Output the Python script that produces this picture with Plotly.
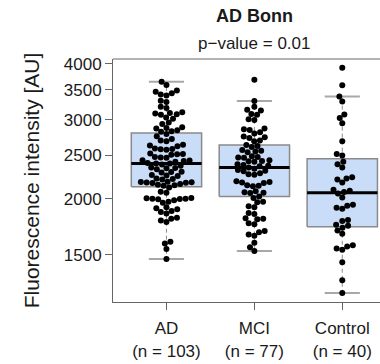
import numpy as np
import plotly.graph_objects as go

# ---- data ----
groups = ["AD", "MCI", "Control"]

ad_values = [
    1468, 1545, 1590, 1605, 1775, 1790, 1805, 1815, 1855, 1870, 1880, 1895, 1905,
    1915, 1960, 1970, 1985, 1995, 1998, 2000, 2002, 2005, 2010, 2065, 2075, 2120,
    2138, 2145, 2150, 2160, 2170, 2172, 2175, 2178, 2180, 2185, 2210, 2215, 2220,
    2250, 2255, 2260, 2290, 2295, 2300, 2330, 2340, 2345, 2350, 2370, 2385,
    2397,
    2400, 2405, 2420, 2430, 2435, 2440, 2470, 2475, 2480, 2510, 2515, 2520, 2525,
    2575, 2580, 2585, 2590, 2620, 2630, 2640, 2690, 2700, 2720, 2760, 2790,
    2822, 2830, 2845, 2870, 2880, 2890, 2940, 2960, 3020, 3040, 3080, 3090, 3100,
    3110, 3120, 3190, 3210, 3290, 3310, 3400, 3420, 3440, 3470, 3490, 3590, 3650,
]

mci_values = [
    1530, 1560, 1595, 1655, 1665, 1685, 1695, 1755, 1765, 1800, 1805, 1810, 1850,
    1860, 1915, 1925, 1965, 1970, 2010,
    2025,
    2060, 2065, 2070, 2080, 2135, 2140, 2145, 2170, 2175, 2180, 2190, 2265, 2270,
    2280, 2305, 2310, 2320, 2335,
    2351,
    2365, 2370, 2380, 2390, 2420, 2425, 2430, 2440, 2470, 2475, 2480, 2490, 2540,
    2550, 2560, 2570, 2610, 2625,
    2638,
    2690, 2700, 2735, 2745, 2755, 2800, 2815, 2850, 2860, 2870, 3000, 3010, 3080,
    3095, 3150, 3160, 3210, 3308, 3690,
]

control_values = [
    1233, 1317, 1444, 1540, 1550, 1565, 1575, 1672, 1700, 1725,
    1741, 1750, 1785, 1795, 1900, 1910, 1930, 1940, 2015, 2055,
    2073, 2085, 2095, 2175, 2210, 2220, 2235, 2350, 2390, 2420,
    2498, 2520, 2690, 2950, 3030, 3085, 3300, 3386, 3585, 3925,
]

series = [ad_values, mci_values, control_values]

y_tick_vals = [1500, 2000, 2500, 3000, 3500, 4000]
title_text = "AD Bonn"
subtitle_text = "p\u2212value = 0.01"
y_title = "Fluorescence intensity [AU]"

# ---- layout constants ----
W, H = 380, 364
M_L, M_R, M_T, M_B = 113, 0, 59, 62
Y_RANGE = [np.log10(1177), np.log10(4104)]
X_RANGE = [0.392, 3.429]
plot_w = W - M_L - M_R
plot_h = H - M_T - M_B
px_per_x = plot_w / (X_RANGE[1] - X_RANGE[0])
px_per_dec = plot_h / (Y_RANGE[1] - Y_RANGE[0])

FONT = "Liberation Sans, Arial, Helvetica, sans-serif"
BOX_FILL = "#C9DDF8"
BOX_LINE = "#8A8A8A"
WHISK = "#8A8A8A"
CAP = "#A8A8A8"
AXIS = "#666666"
TXT = "#1a1a1a"
DOT = 5.8


def fivenum(v):
    v = np.sort(np.asarray(v, float))
    n = len(v)
    n4 = np.floor((n + 3) / 2) / 2
    d = np.array([1, n4, (n + 1) / 2, n + 1 - n4, n]) - 1
    return 0.5 * (v[np.floor(d).astype(int)] + v[np.ceil(d).astype(int)])


def swarm(vals):
    y = np.log10(np.asarray(vals, float)) * px_per_dec
    order = np.argsort(y, kind="stable")
    px, py = [], []
    xs = np.zeros(len(y))
    for i in order:
        yi = y[i]
        cands = [0.0]
        for xj, yj in zip(px, py):
            dy = yi - yj
            if abs(dy) < DOT:
                dx = np.sqrt(DOT ** 2 - dy ** 2)
                cands += [xj + dx, xj - dx]
        cands.sort(key=lambda c: (abs(c), c))
        for c in cands:
            ok = True
            for xj, yj in zip(px, py):
                if (c - xj) ** 2 + (yi - yj) ** 2 < DOT ** 2 - 1e-6:
                    ok = False
                    break
            if ok:
                xs[i] = c
                break
        px.append(xs[i])
        py.append(yi)
    return xs / px_per_x


fig = go.Figure()

for gi, vals in enumerate(series):
    pos = gi + 1
    v = np.asarray(vals, float)
    mn, q1, med, q3, mx = fivenum(v)
    iqr = q3 - q1
    upper = v[v <= q3 + 1.5 * iqr].max()
    lower = v[v >= q1 - 1.5 * iqr].min()

    # whiskers (dashed)
    for a, b in [(q3, upper), (q1, lower)]:
        fig.add_trace(go.Scatter(x=[pos, pos], y=[a, b], mode="lines",
                                 line=dict(color=WHISK, width=1, dash="4px,3px"),
                                 hoverinfo="skip", showlegend=False))
    # caps
    for c in (upper, lower):
        fig.add_trace(go.Scatter(x=[pos - 0.2, pos + 0.2], y=[c, c], mode="lines",
                                 line=dict(color=CAP, width=2),
                                 hoverinfo="skip", showlegend=False))
    # box
    fig.add_trace(go.Scatter(x=[pos - 0.4, pos + 0.4, pos + 0.4, pos - 0.4, pos - 0.4],
                             y=[q1, q1, q3, q3, q1], mode="lines", fill="toself",
                             fillcolor=BOX_FILL, line=dict(color=BOX_LINE, width=1.5),
                             hoverinfo="skip", showlegend=False))
    # median
    fig.add_trace(go.Scatter(x=[pos - 0.4, pos + 0.4], y=[med, med], mode="lines",
                             line=dict(color="black", width=3),
                             hoverinfo="skip", showlegend=False))
    # points (beeswarm)
    offs = swarm(v)
    fig.add_trace(go.Scatter(x=pos + offs, y=v, mode="markers",
                             marker=dict(color="black", size=6, line=dict(width=0)),
                             showlegend=False))

tick_text = [f"{g}<br>(n = {len(s)})" for g, s in zip(groups, series)]

fig.update_layout(
    width=W, height=H,
    margin=dict(l=M_L, r=M_R, t=M_T, b=M_B, pad=0),
    paper_bgcolor="white", plot_bgcolor="white",
    font=dict(family=FONT, color=TXT, size=17),
    xaxis=dict(range=X_RANGE, showgrid=False, zeroline=False,
               showline=True, linecolor=AXIS, linewidth=1,
               tickmode="array", tickvals=[1, 2, 3], ticktext=tick_text,
               ticks="outside", ticklen=7, tickcolor=AXIS, tickwidth=1,
               ticklabelstandoff=4,
               tickfont=dict(size=17, color=TXT)),
    yaxis=dict(type="log", range=Y_RANGE, showgrid=False, zeroline=False,
               showline=True, linecolor=AXIS, linewidth=1,
               tickmode="array", tickvals=y_tick_vals,
               ticktext=[str(t) for t in y_tick_vals],
               ticks="outside", ticklen=7, tickcolor=AXIS, tickwidth=1,
               tickfont=dict(size=17, color=TXT),
               title=dict(text=y_title, font=dict(size=21, color=TXT), standoff=18)),
    shapes=[dict(type="line", xref="paper", yref="paper", x0=0, x1=1, y0=1, y1=1,
                 line=dict(color=AXIS, width=1))],
    annotations=[
        dict(text=f"<b>{title_text}</b>", xref="x", yref="paper", x=2,
             y=(H - M_B - 16.5) / plot_h, xanchor="center", yanchor="middle",
             showarrow=False, font=dict(size=18, color=TXT)),
        dict(text=subtitle_text, xref="x", yref="paper", x=2,
             y=(H - M_B - 43) / plot_h, xanchor="center", yanchor="middle",
             showarrow=False, font=dict(size=17, color=TXT)),
    ],
)

fig.write_html("out.html")
